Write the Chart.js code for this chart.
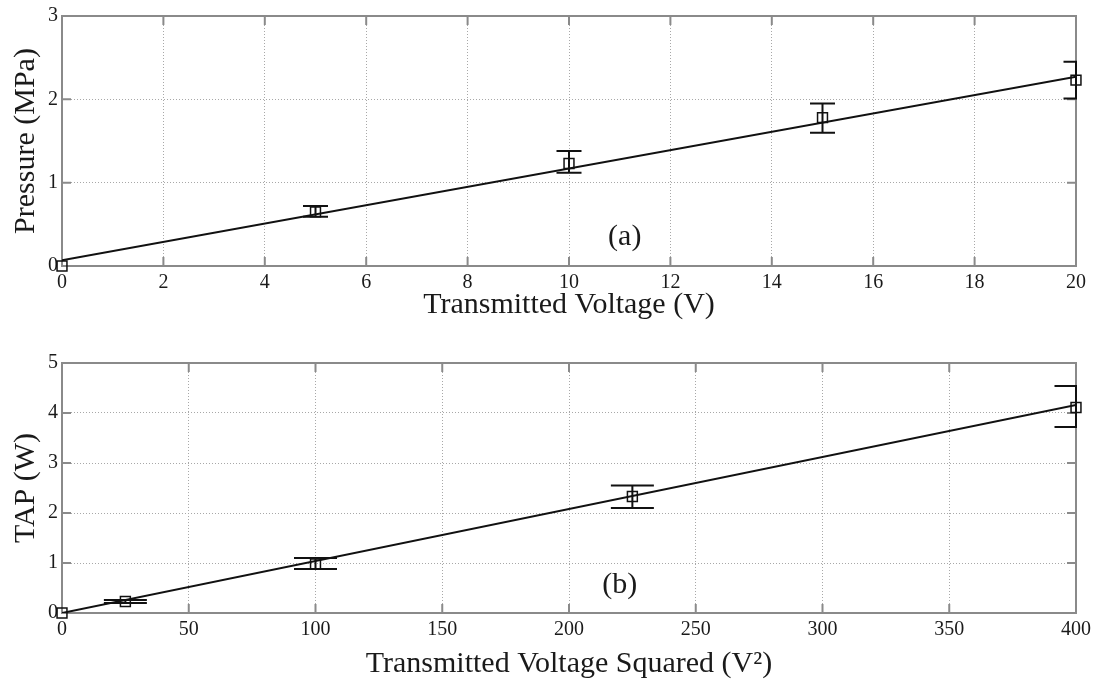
<!DOCTYPE html>
<html>
<head>
<meta charset="utf-8">
<script src="https://cdn.jsdelivr.net/npm/chart.js@4.4.1/dist/chart.umd.min.js"></script>
<style>
body { margin: 0; background: #fff; }
#wrap { position: relative; width: 1098px; height: 683px; }
canvas { position: absolute; left: 0; }
</style>
</head>
<body>
<div id="wrap">
  <canvas id="chartA" width="1098" height="330" style="top:0px"></canvas>
  <canvas id="chartB" width="1098" height="353" style="top:330px"></canvas>
</div>
<script>
// (a) pressure vs transmitted voltage
var voltage = [0, 5, 10, 15, 20];
var pressure = [0, 0.65, 1.23, 1.78, 2.23];
var pressureHigh = [0, 0.72, 1.38, 1.95, 2.45];
var pressureLow = [0, 0.59, 1.12, 1.60, 2.01];
var pressureFitX = [0, 20];
var pressureFitY = [0.07, 2.27];

// (b) TAP vs transmitted voltage squared
var voltageSq = [0, 25, 100, 225, 400];
var tap = [0, 0.23, 0.98, 2.33, 4.11];
var tapHigh = [0, 0.26, 1.10, 2.55, 4.54];
var tapLow = [0, 0.20, 0.88, 2.10, 3.72];
var tapFitX = [0, 400];
var tapFitY = [0, 4.16];

var serif = "'Liberation Serif', 'Times New Roman', serif";
var textColor = '#1a1a1a';
var frameColor = '#8a8a8a';

function toPoints(xs, ys) {
    var pts = [];
    for (var i = 0; i < xs.length; i++) {
        pts.push({ x: xs[i], y: ys[i] });
    }
    return pts;
}

// matlab style box, inward ticks, error bars and panel tag
var matlabBox = {
    id: 'matlabBox',
    beforeDatasetsDraw: function (chart) {
        var ctx = chart.ctx;
        var a = chart.chartArea;
        var xs = chart.scales.x, ys = chart.scales.y;
        ctx.save();
        ctx.strokeStyle = frameColor;
        ctx.lineWidth = 2;
        ctx.strokeRect(a.left, a.top, a.right - a.left, a.bottom - a.top);
        ctx.beginPath();
        xs.ticks.forEach(function (t) {
            var px = xs.getPixelForValue(t.value);
            ctx.moveTo(px, a.bottom); ctx.lineTo(px, a.bottom - 9);
            ctx.moveTo(px, a.top); ctx.lineTo(px, a.top + 9);
        });
        ys.ticks.forEach(function (t) {
            var py = ys.getPixelForValue(t.value);
            ctx.moveTo(a.left, py); ctx.lineTo(a.left + 9, py);
            ctx.moveTo(a.right, py); ctx.lineTo(a.right - 9, py);
        });
        ctx.stroke();
        ctx.restore();
    },
    afterDatasetsDraw: function (chart, args, opts) {
        var ctx = chart.ctx;
        var a = chart.chartArea;
        var xs = chart.scales.x, ys = chart.scales.y;
        ctx.save();
        ctx.beginPath();
        ctx.rect(a.left - 1, a.top - 1, a.right - a.left + 2, a.bottom - a.top + 2);
        ctx.clip();
        ctx.strokeStyle = '#111';
        ctx.lineWidth = 2;
        ctx.beginPath();
        for (var i = 0; i < opts.xs.length; i++) {
            if (opts.high[i] === opts.low[i]) continue;
            var px = xs.getPixelForValue(opts.xs[i]);
            var hi = ys.getPixelForValue(opts.high[i]);
            var lo = ys.getPixelForValue(opts.low[i]);
            var w = opts.capWidth / 2;
            ctx.moveTo(px, hi); ctx.lineTo(px, lo);
            ctx.moveTo(px - w, hi); ctx.lineTo(px + w, hi);
            ctx.moveTo(px - w, lo); ctx.lineTo(px + w, lo);
        }
        ctx.stroke();
        ctx.restore();

        ctx.save();
        ctx.fillStyle = textColor;
        ctx.font = '30px ' + serif;
        ctx.textAlign = 'center';
        ctx.textBaseline = 'middle';
        ctx.fillText(opts.tag, xs.getPixelForValue(opts.tagX), ys.getPixelForValue(opts.tagY));
        ctx.restore();
    }
};

function makeChart(id, cfg) {
    var ctx = document.getElementById(id).getContext('2d');
    return new Chart(ctx, {
        type: 'scatter',
        data: {
            datasets: [
                {
                    data: toPoints(cfg.fitX, cfg.fitY),
                    showLine: true,
                    borderColor: '#111',
                    borderWidth: 2,
                    pointRadius: 0
                },
                {
                    data: toPoints(cfg.xs, cfg.ys),
                    showLine: false,
                    pointStyle: 'rect',
                    pointRadius: 7,
                    borderColor: '#111',
                    borderWidth: 1.5,
                    backgroundColor: 'rgba(0,0,0,0)',
                    clip: false
                }
            ]
        },
        options: {
            responsive: false,
            animation: false,
            devicePixelRatio: 1,
            layout: { padding: { left: 0, right: 22, top: cfg.padTop, bottom: 0 } },
            plugins: {
                legend: { display: false },
                tooltip: { enabled: false },
                matlabBox: {
                    xs: cfg.xs, high: cfg.high, low: cfg.low, capWidth: cfg.capWidth,
                    tag: cfg.tag, tagX: cfg.tagX, tagY: cfg.tagY
                }
            },
            scales: {
                x: {
                    type: 'linear',
                    min: cfg.xMin, max: cfg.xMax,
                    ticks: { stepSize: cfg.xStep, color: textColor, padding: 5, maxRotation: 0,
                        font: { family: serif, size: 20 } },
                    grid: { color: '#a8a8a8', lineWidth: 1, drawTicks: false },
                    border: { display: false, dash: [1, 2] },
                    title: { display: true, text: cfg.xTitle, color: textColor,
                        font: { family: serif, size: 30 }, padding: { top: 0, bottom: cfg.xTitlePad } },
                    afterFit: function (s) { s.height = cfg.xHeight; }
                },
                y: {
                    type: 'linear',
                    min: cfg.yMin, max: cfg.yMax,
                    ticks: { stepSize: 1, color: textColor, padding: 4,
                        font: { family: serif, size: 20 } },
                    grid: { color: '#a8a8a8', lineWidth: 1, drawTicks: false },
                    border: { display: false, dash: [1, 2] },
                    title: { display: true, text: cfg.yTitle, color: textColor,
                        font: { family: serif, size: 30 }, padding: { top: 8, bottom: 0 } },
                    afterFit: function (s) { s.width = 62; }
                }
            }
        },
        plugins: [matlabBox]
    });
}

makeChart('chartA', {
    xs: voltage, ys: pressure, high: pressureHigh, low: pressureLow,
    fitX: pressureFitX, fitY: pressureFitY,
    capWidth: 25, tag: '(a)', tagX: 11.1, tagY: 0.35,
    xMin: 0, xMax: 20, xStep: 2, yMin: 0, yMax: 3,
    xTitle: 'Transmitted Voltage (V)', yTitle: 'Pressure (MPa)',
    padTop: 15, xHeight: 64, xTitlePad: 7
});

makeChart('chartB', {
    xs: voltageSq, ys: tap, high: tapHigh, low: tapLow,
    fitX: tapFitX, fitY: tapFitY,
    capWidth: 43, tag: '(b)', tagX: 220, tagY: 0.56,
    xMin: 0, xMax: 400, xStep: 50, yMin: 0, yMax: 5,
    xTitle: 'Transmitted Voltage Squared (V\u00B2)', yTitle: 'TAP (W)',
    padTop: 33, xHeight: 70, xTitlePad: 1
});
</script>
</body>
</html>
